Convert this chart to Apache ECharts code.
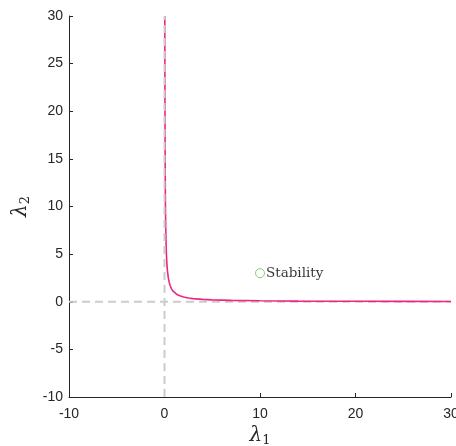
<!DOCTYPE html>
<html>
<head>
<meta charset="utf-8">
<script src="https://cdn.jsdelivr.net/npm/echarts@6/dist/echarts.min.js"></script>
<style>
  html, body { margin: 0; padding: 0; background: #fff; }
  #chart { width: 456px; height: 446px; }
</style>
</head>
<body>
<div id="chart"></div>
<script>
// Boundary curve in the (λ1, λ2) plane, sampled points
const boundaryL1 = [0.033, 0.04, 0.05, 0.065, 0.08, 0.1, 0.13, 0.16, 0.2, 0.25, 0.3, 0.4, 0.5, 0.6, 0.75, 0.9, 1.1, 1.3, 1.6, 2, 2.5, 3, 4, 5, 7, 10, 14, 20, 25, 30];
const boundaryL2 = [30, 25, 20, 15.4, 12.5, 10, 7.7, 6.25, 5, 4, 3.33, 2.5, 2, 1.67, 1.33, 1.11, 0.91, 0.77, 0.63, 0.5, 0.4, 0.33, 0.25, 0.2, 0.14, 0.1, 0.07, 0.05, 0.04, 0.033];

// Labelled point
const stabilityPoint = [10, 3];
const stabilityText = 'Stability';

// Axis ranges and ticks
const xRange = [-10, 30];
const yRange = [-10, 30];
const xTickStep = 10;
const yTickStep = 5;

const curveData = boundaryL1.map((x, i) => [x, boundaryL2[i]]);

const chart = echarts.init(document.getElementById('chart'), null, { renderer: 'canvas' });

const axisColor = '#262626';
const guideStyle = { color: '#cccccc', width: 2, type: [8, 5] };
const nameRich = {
  l: { fontFamily: 'DejaVu Serif', fontStyle: 'italic', fontSize: 20, color: axisColor },
  s: { fontFamily: 'DejaVu Serif', fontSize: 13, color: axisColor, verticalAlign: 'bottom', padding: [10, 0, 0, 0] }
};

chart.setOption({
  animation: false,
  backgroundColor: '#ffffff',
  grid: { left: 69, right: 5, top: 16, bottom: 49, containLabel: false, outerBoundsMode: 'none' },
  xAxis: {
    type: 'value',
    min: xRange[0], max: xRange[1], interval: xTickStep,
    name: '{l|λ}{s|1}',
    nameLocation: 'middle',
    nameGap: 20,
    nameTextStyle: { rich: nameRich },
    axisLine: { show: true, onZero: false, lineStyle: { color: axisColor, width: 1 } },
    axisTick: { show: true, inside: true, length: 4, lineStyle: { color: axisColor } },
    axisLabel: { color: axisColor, fontFamily: 'Liberation Sans', fontSize: 14, margin: 10 },
    splitLine: { show: false }
  },
  yAxis: {
    type: 'value',
    min: yRange[0], max: yRange[1], interval: yTickStep,
    name: '{l|λ}{s|2}',
    nameLocation: 'middle',
    nameGap: 32,
    nameTextStyle: { rich: nameRich },
    axisLine: { show: true, onZero: false, lineStyle: { color: axisColor, width: 1 } },
    axisTick: { show: true, inside: true, length: 4, lineStyle: { color: axisColor } },
    axisLabel: { color: axisColor, fontFamily: 'Liberation Sans', fontSize: 14, margin: 6 },
    splitLine: { show: false }
  },
  series: [
    {
      type: 'line',
      data: curveData,
      showSymbol: false,
      smooth: false,
      lineStyle: { color: '#ef2585', width: 1.6 },
      z: 2
    },
    {
      type: 'line',
      data: [[0, yRange[0]], [0, yRange[1]]],
      showSymbol: false,
      lineStyle: guideStyle,
      z: 3
    },
    {
      type: 'line',
      data: [[xRange[0], 0], [xRange[1], 0]],
      showSymbol: false,
      lineStyle: guideStyle,
      z: 1
    },
    {
      type: 'scatter',
      data: [stabilityPoint],
      symbol: 'circle',
      symbolSize: 9,
      itemStyle: { color: '#ffffff', borderColor: '#6cbf4f', borderWidth: 1 },
      label: {
        show: true,
        position: 'right',
        distance: 1,
        formatter: stabilityText,
        fontFamily: 'DejaVu Serif',
        fontSize: 13.5,
        color: '#000000'
      },
      z: 4
    }
  ]
});
</script>
</body>
</html>
